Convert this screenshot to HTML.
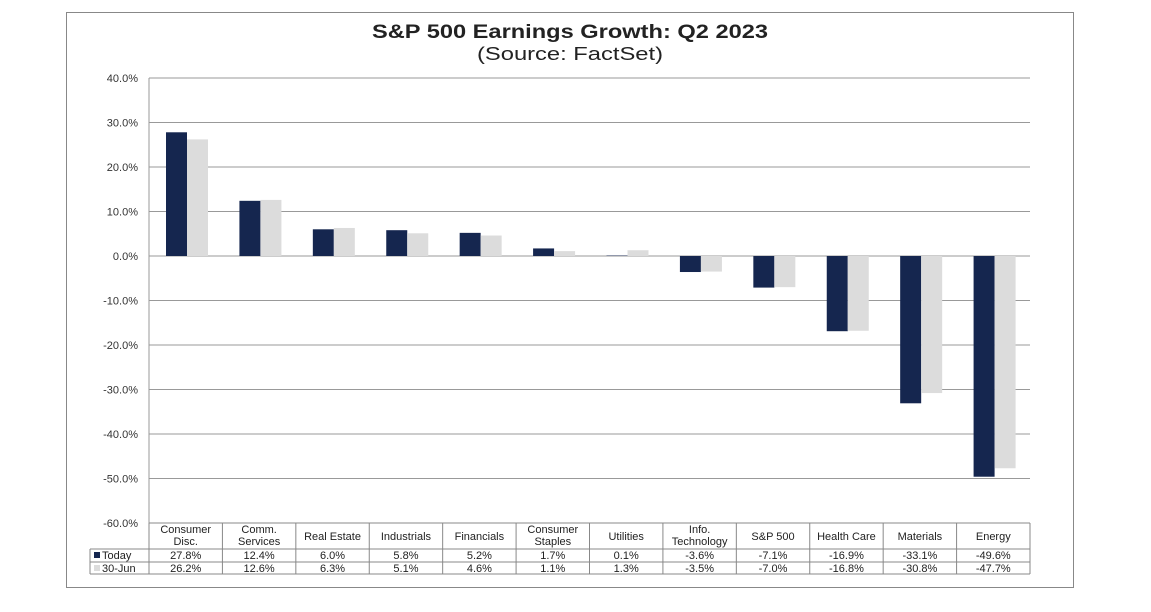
<!DOCTYPE html>
<html><head><meta charset="utf-8"><style>
body{margin:0;background:#fff;width:1151px;height:607px;overflow:hidden;font-family:"Liberation Sans",sans-serif}
</style></head><body>
<svg width="1151" height="607" xmlns="http://www.w3.org/2000/svg">
<rect x="66.5" y="12.5" width="1007" height="575" fill="#fff" stroke="#888"/>
<text x="570" y="38" text-anchor="middle" font-size="19" font-weight="bold" fill="#222" textLength="396" lengthAdjust="spacingAndGlyphs">S&amp;P 500 Earnings Growth: Q2 2023</text>
<text x="570" y="60" text-anchor="middle" font-size="18" fill="#222" textLength="186" lengthAdjust="spacingAndGlyphs">(Source: FactSet)</text>
<g id="g"></g>
</svg>
<script>
const categories=[["Consumer","Disc."],["Comm.","Services"],["Real Estate"],["Industrials"],["Financials"],["Consumer","Staples"],["Utilities"],["Info.","Technology"],["S&P 500"],["Health Care"],["Materials"],["Energy"]];
const today=[27.8,12.4,6.0,5.8,5.2,1.7,0.1,-3.6,-7.1,-16.9,-33.1,-49.6];
const jun30=[26.2,12.6,6.3,5.1,4.6,1.1,1.3,-3.5,-7.0,-16.8,-30.8,-47.7];
const ticks=[40,30,20,10,0,-10,-20,-30,-40,-50,-60];
const NS="http://www.w3.org/2000/svg",g=document.getElementById('g');
const L=149,R=1030,T=78,B=523,yMax=40,yMin=-60;
const y=v=>T+(yMax-v)/(yMax-yMin)*(B-T);
const cw=(R-L)/categories.length;
const x=i=>L+i*cw;
function mk(t,a,txt){const e=document.createElementNS(NS,t);for(const k in a)e.setAttribute(k,a[k]);if(txt!=null)e.textContent=txt;g.appendChild(e);return e;}
ticks.forEach(t=>{
 const l=mk('line',{x1:L,x2:R,y1:y(t),y2:y(t),stroke:'#999','stroke-width':1});
 
 
 const tx=mk('text',{x:138,y:y(t)+4,'text-anchor':'end','font-size':11,fill:'#333'},t.toFixed(1)+'%');
 
 
});
const ax=mk('line',{x1:L,x2:L,y1:T,y2:B,stroke:'#999'});


categories.forEach((c,i)=>{
 const bw=21,x0=x(i)+17;
 const b1=mk('rect',{x:x0,y:Math.min(y(0),y(today[i])),width:bw,height:Math.abs(y(today[i])-y(0)),fill:'#15264f'});
 
 
 const b2=mk('rect',{x:x0+bw,y:Math.min(y(0),y(jun30[i])),width:bw,height:Math.abs(y(jun30[i])-y(0)),fill:'#dcdcdc'});
 
 
});
const r0=523,r1=549,r2=562,r3=574;
[[L,R,r0],[90,R,r1],[90,R,r2],[90,R,r3]].forEach(([a,b,yy])=>{const l=mk('line',{x1:a,x2:b,y1:yy,y2:yy,stroke:'#888'});});
const vl=mk('line',{x1:90,x2:90,y1:r1,y2:r3,stroke:'#888'});


for(let i=0;i<=categories.length;i++){const l=mk('line',{x1:x(i),x2:x(i),y1:r0,y2:r3,stroke:'#888'});}
categories.forEach((c,i)=>{
 const cx=x(i)+cw/2;
 c.forEach((s,j)=>{const t=mk('text',{x:cx,y:c.length==1?540:533+j*12,'text-anchor':'middle','font-size':11,fill:'#222'},s);});
 const a=mk('text',{x:cx,y:559,'text-anchor':'middle','font-size':11,fill:'#222'},today[i].toFixed(1)+'%');
 
 
 const b=mk('text',{x:cx,y:572,'text-anchor':'middle','font-size':11,fill:'#222'},jun30[i].toFixed(1)+'%');
 
 
});
const k1=mk('rect',{x:94,y:552,width:6,height:6,fill:'#15264f'});


const t1=mk('text',{x:102,y:559,'font-size':11,fill:'#222'},'Today');


const k2=mk('rect',{x:94,y:565,width:6,height:6,fill:'#dcdcdc'});


const t2=mk('text',{x:102,y:572,'font-size':11,fill:'#222'},'30-Jun');


</script>
</body></html>
